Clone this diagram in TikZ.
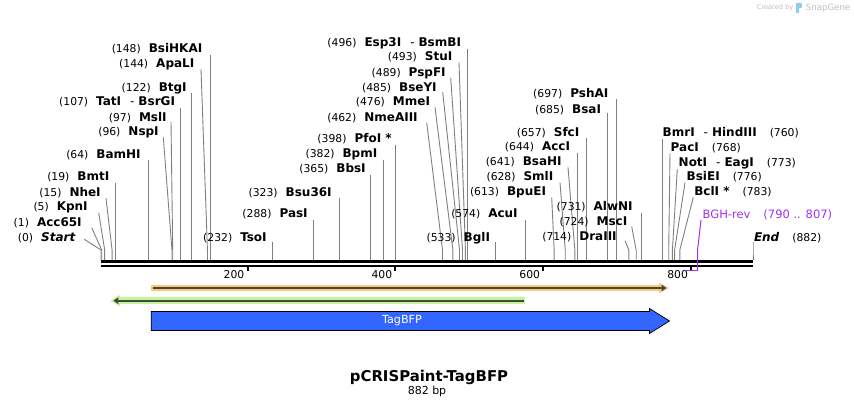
\documentclass[tikz,border=0pt]{standalone}
\usepackage{fontspec}
\setmainfont{DejaVu Sans}
\usetikzlibrary{arrows.meta}
\definecolor{sitegray}{RGB}{128,128,128}
\definecolor{orangeband}{RGB}{250,200,125}
\definecolor{greenband}{RGB}{195,245,155}
\definecolor{orfdark}{RGB}{70,72,60}
\definecolor{bfpblue}{RGB}{51,102,255}
\definecolor{primer}{RGB}{160,50,240}
\definecolor{wm}{RGB}{190,190,190}
\definecolor{wmblue}{RGB}{140,205,240}
\newcommand\numf{\fontsize{10.8}{12}\selectfont}
\newcommand\namef{\fontsize{12}{14}\selectfont\bfseries}
\newcommand\SX[1]{101+#1*0.73923}
\newcommand\dsh{\hspace{9pt}{\mdseries -}\hspace{4pt}}
\tikzset{
  lbl/.style={inner sep=0pt, outer sep=0pt, font=\numf, text=black},
  site/.style={draw=sitegray, line width=0.9pt},
  tickmark/.style={draw=black, line width=2pt},
}
% left label: #1 pos, #2 text end x, #3 text centre y, #4 line start x, #5 line start y, #6 name
\newcommand\Lsite[6]{%
  \node[lbl, anchor=base east] (L#1) at ({#2},{#3+4}) {(#1)\hspace{8pt}{\namef #6}};
  \coordinate (C#1) at ({#4},{#5});
  \coordinate (K#1) at ({\SX{#1}},250);
  \coordinate (S#1) at ({\SX{#1}},260);
  \draw[site] (C#1) -- (K#1) -- (S#1);
}
\newcommand\LsiteV[5]{\Lsite{#1}{#2}{#3}{\SX{#1}}{#4}{#5}}
% right label: #1 pos, #2 text start x, #3 text centre y, #4 line start x, #5 line start y, #6 name
\newcommand\Rsite[6]{%
  \node[lbl, anchor=base west] (L#1) at ({#2},{#3+4}) {{\namef #6}\hspace{13pt}(#1)};
  \coordinate (C#1) at ({#4},{#5});
  \coordinate (K#1) at ({\SX{#1}},250);
  \coordinate (S#1) at ({\SX{#1}},260);
  \draw[site] (C#1) -- (K#1) -- (S#1);
}
\newcommand\Tick[1]{%
  \coordinate (T#1) at ({\SX{#1}-1.3},267);
  \draw[tickmark] (T#1) -- ++(0,4);
  \node[lbl, anchor=base east] (TL#1) at ({\SX{#1}-4.5},278) {#1};
}
\begin{document}
\begin{tikzpicture}[x=1pt,y=-1pt]
\useasboundingbox (0,0) rectangle (854,406);
\fill[white] (0,0) rectangle (854,406);

% backbone
\coordinate (b0) at (101,261.7);
\coordinate (b1) at (753,261.7);
\coordinate (c0) at (101,266);
\coordinate (c1) at (753,266);
\draw[line width=3.3pt] (b0) -- (b1);
\draw[line width=2.6pt] (c0) -- (c1);

% ticks
\Tick{200}
\Tick{400}
\Tick{600}
\Tick{800}

% left cluster
\LsiteV{148}{202.3}{48.3}{55}{BsiHKAI}
\Lsite{144}{194.3}{64}{201}{69.3}{ApaLI}
\LsiteV{122}{186.7}{87.3}{92.7}{BtgI}
\LsiteV{107}{175}{101.7}{108.3}{TatI\dsh BsrGI}
\Lsite{97}{166.7}{117.3}{171}{121.7}{MslI}
\Lsite{96}{158.7}{131.7}{163.3}{137.3}{NspI}
\LsiteV{64}{140.7}{155}{160}{BamHI}
\LsiteV{19}{109.3}{176.7}{182.7}{BmtI}
\Lsite{15}{100.7}{192.3}{106}{198.3}{NheI}
\Lsite{5}{87.7}{206.7}{98.7}{212.7}{KpnI}
\Lsite{1}{81.7}{222.3}{91.7}{227.7}{Acc65I}
\Lsite{0}{75.3}{237.3}{84.3}{239.3}{\itshape Start}
\LsiteV{232}{266.7}{237.3}{242}{TsoI}

% middle cluster
\LsiteV{288}{307.7}{214}{220}{PasI}
\LsiteV{323}{331.7}{192.3}{198.3}{Bsu36I}
\LsiteV{365}{365.7}{169}{175}{BbsI}
\LsiteV{382}{377.3}{154}{160}{BpmI}
\LsiteV{398}{391.7}{139}{145}{PfoI *}
\Lsite{462}{417.7}{117.3}{426.7}{122.7}{NmeAIII}
\Lsite{476}{430}{101.7}{435}{107.3}{MmeI}
\Lsite{485}{436.7}{87.3}{442.7}{92}{BseYI}
\Lsite{489}{445.7}{72.3}{450.7}{77.7}{PspFI}
\Lsite{493}{452.3}{56.7}{459}{62.3}{StuI}
\LsiteV{496}{461}{42.7}{49}{Esp3I\dsh BsmBI}
\LsiteV{533}{490}{237.3}{241.7}{BglI}
\LsiteV{574}{517.7}{214}{220}{AcuI}

% right-middle cluster
\Lsite{613}{546}{191.7}{551.7}{197.3}{BpuEI}
\Lsite{628}{553.3}{177}{560}{182.7}{SmlI}
\Lsite{641}{561.7}{161.7}{568}{167.3}{BsaHI}
\LsiteV{644}{570}{147}{152.7}{AccI}
\LsiteV{657}{579.3}{132.3}{137.7}{SfcI}
\LsiteV{685}{601}{109.3}{113.3}{BsaI}
\LsiteV{697}{608.3}{94}{99.3}{PshAI}
\Lsite{714}{616.7}{236.7}{625}{240.7}{DraIII}
\Lsite{724}{627.3}{221.7}{631.7}{226.7}{MscI}
\LsiteV{731}{632.7}{207}{212.7}{AlwNI}

% right cluster
\Rsite{760}{662.7}{132.3}{\SX{760}}{139.3}{BmrI\dsh HindIII}
\Rsite{768}{670.7}{147.3}{670}{153.3}{PacI}
\Rsite{773}{678.7}{162.3}{677.3}{169}{NotI\dsh EagI}
\Rsite{776}{686.7}{177}{685}{182.7}{BsiEI}
\Rsite{783}{694.3}{192}{693.3}{197.3}{BclI *}
\Rsite{882}{754}{237}{\SX{882}}{241.7}{\itshape End}

% primer BGH-rev
\node[lbl, anchor=base west, text=primer, font=\fontsize{11.5}{13}\selectfont] (bgh) at (702.7,218.2) {BGH-rev\hspace{13pt}(790 .. 807)};
\coordinate (pc) at (701,220);
\coordinate (pk) at ({\SX{807}},250);
\coordinate (pe) at ({\SX{807}},270.3);
\coordinate (ps) at ({\SX{790}},270.3);
\draw[primer, line width=1pt] (pc) -- (pk) -- (pe);
\draw[primer, line width=1.6pt] (ps) -- (pe);

% ORF forward (orange)
\fill[orangeband] (151.2,285) rectangle (662,291);
\fill[orangeband] (659,282.7) -- (669,288) -- (659,293.3) -- cycle;
\coordinate (o0) at (153,288);
\coordinate (o1) at (666.5,288);
\draw[orfdark, line width=1.6pt, -{Triangle[length=5pt,width=6.5pt]}] (o0) -- (o1);

% ORF reverse (green)
\fill[greenband] (118,297.3) rectangle (525,304);
\fill[greenband] (120,295) -- (110.3,300.7) -- (120,306.4) -- cycle;
\coordinate (g0) at (523.6,300.7);
\coordinate (g1) at (113.3,300.7);
\draw[orfdark, line width=1.6pt, -{Triangle[length=5pt,width=6.5pt]}] (g0) -- (g1);

% TagBFP feature
\draw[fill=bfpblue, draw=black, line width=0.7pt]
  (151.2,311.5) -- (649.5,311.5) -- (649.5,308.5) -- (669.5,321) -- (649.5,333.5) -- (649.5,330.5) -- (151.2,330.5) -- cycle;
\node[inner sep=0pt, text=white, font=\fontsize{11.2}{13}\selectfont] (tagbfp) at (402,321) {TagBFP};

% title
\node[inner sep=0pt, anchor=base, font=\fontsize{14.9}{17}\selectfont\bfseries] (title) at (429,381) {pCRISPaint-TagBFP};
\node[inner sep=0pt, anchor=base, font=\fontsize{11}{13}\selectfont] (size) at (427,394.5) {882 bp};

% watermark
\node[inner sep=0pt, anchor=base west, text=wm, font=\fontsize{6.6}{8}\selectfont] (wm1) at (756.7,10) {Created by};
\fill[wmblue] (796.2,3) rectangle (798.6,13);
\fill[wmblue] (798.6,3) -- (801,3) .. controls (802.4,3) and (802.4,8) .. (801,8) -- (798.6,8) -- cycle;
\node[inner sep=0pt, anchor=base west, text=wm, font=\fontsize{8.6}{10}\selectfont] (wm2) at (805.7,10.5) {SnapGene};
\end{tikzpicture}
\end{document}
